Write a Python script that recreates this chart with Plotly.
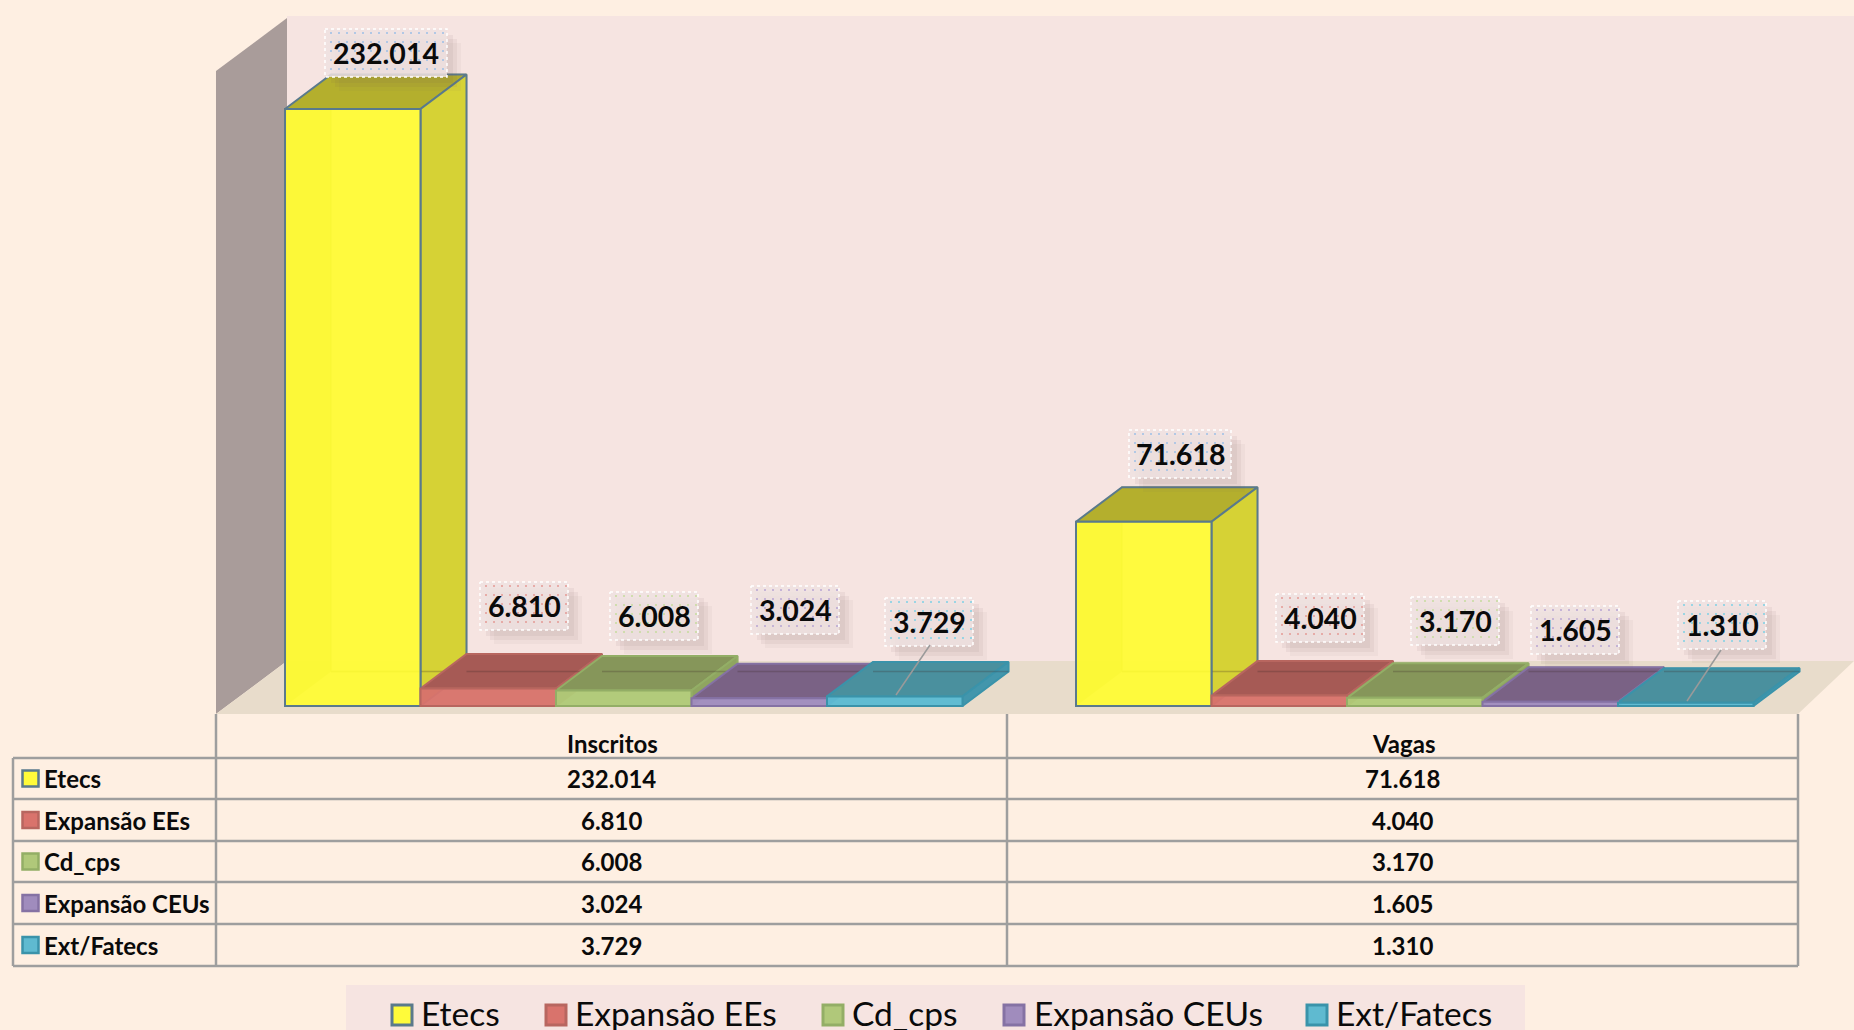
import plotly.graph_objects as go

# ---------- data ----------
categories = ["Inscritos", "Vagas"]
series_names = ["Etecs", "Expansão EEs", "Cd_cps", "Expansão CEUs", "Ext/Fatecs"]
etecs = [232014, 71618]
expansao_ees = [6810, 4040]
cd_cps = [6008, 3170]
expansao_ceus = [3024, 1605]
ext_fatecs = [3729, 1310]
series_values = [etecs, expansao_ees, cd_cps, expansao_ceus, ext_fatecs]

# ---------- style ----------
W, H = 1854, 1030
BG = "#FEEFE2"
WALL = "#F6E4E1"
SIDEWALL = "#A99C9A"
FLOOR = "#E8DCCB"
FRONT = ["rgba(255,252,50,0.93)", "rgba(216,116,108,0.96)", "rgba(176,202,120,0.96)",
         "rgba(160,140,190,0.96)", "rgba(92,186,210,0.96)"]
SOLID = ["#FFFB3A", "#D9736C", "#B0C87A", "#A08CBD", "#5FBAD0"]
SIDE = ["#D6D235", "#B5605A", "#8FA560", "#7F6A9E", "#4396AC"]
TOP = ["#B4AF2D", "#A65A55", "#86965A", "#7A6285", "#4A909E"]
BACKTINT = ["rgba(150,150,40,0.45)", "rgba(120,50,50,0.35)", "rgba(90,110,50,0.35)",
            "rgba(90,70,110,0.35)", "rgba(40,110,130,0.35)"]
EDGE = ["#5A7A8C", "#B8665F", "#93AE66", "#8572A4", "#3A93AA"]
DOT = ["#9DBFE6", "#E59A95", "#C6DB9C", "#B7A5D2", "#7CD0E4"]
GRID = "#9E9E9E"
INK = "#0A0A0A"
FONT = "Lato"

# pixel anchors of the pseudo-3D scale
BASE_PX = 706
PX_PER_VALUE = 597 / 232014
BAND_PX = 791
GROUP_PX = 677.5
GROUP0_LEFT = 285
DEPTH_X_PX = 46
DEPTH_Y_PX = 34.5

center0 = GROUP0_LEFT + GROUP_PX / 2
x_range = [(0 - center0) / BAND_PX, (W - center0) / BAND_PX]
y_range = [(BASE_PX - H) / PX_PER_VALUE, BASE_PX / PX_PER_VALUE]
bar_w = (GROUP_PX / BAND_PX) / len(series_names)
group_w = GROUP_PX / BAND_PX
dx = DEPTH_X_PX / BAND_PX
dy = DEPTH_Y_PX / PX_PER_VALUE


def fx(x):
    return x / W


def fy(y):
    return 1 - y / H


fig = go.Figure()


def poly(xs, ys, fill, line=None, lw=1.5, axes=("x", "y")):
    fig.add_trace(go.Scatter(
        x=xs + xs[:1], y=ys + ys[:1], mode="lines", fill="toself", fillcolor=fill,
        line=dict(color=line or "rgba(0,0,0,0)", width=lw), xaxis=axes[0], yaxis=axes[1],
        hoverinfo="skip", showlegend=False))


# depth faces, drawn through the value axes
for s, values in enumerate(series_values):
    for c, v in enumerate(values):
        x0 = c - group_w / 2 + s * bar_w
        x1 = x0 + bar_w
        # inner back/left/bottom faces, seen through the translucent box
        poly([x0, x0 + dx, x0 + dx, x0], [0, dy, v + dy, v], BACKTINT[s])
        poly([x0 + dx, x1 + dx, x1 + dx, x0 + dx], [dy, dy, v + dy, v + dy], "rgba(0,0,0,0)",
             BACKTINT[s], 1.5)
        # top and right faces
        poly([x0, x1, x1 + dx, x0 + dx], [v, v, v + dy, v + dy], TOP[s], EDGE[s], 2)
        poly([x1, x1 + dx, x1 + dx, x1], [0, dy, v + dy, v], SIDE[s], EDGE[s], 2)
        # back bottom edge seen through the top face
        fig.add_trace(go.Scatter(x=[x0 + dx, x1 + dx], y=[dy, dy], mode="lines",
                                 line=dict(color="rgba(60,40,40,0.25)", width=1.5),
                                 hoverinfo="skip", showlegend=False))

# front faces: real grouped bars
for s, values in enumerate(series_values):
    fig.add_trace(go.Bar(
        x=categories, y=values, name=series_names[s], xaxis="x2", yaxis="y2",
        marker=dict(color=FRONT[s], line=dict(color=EDGE[s], width=2)),
        showlegend=False, hoverinfo="skip"))

# ---------- data labels ----------
label_centers = [[(386, 53), (1180, 454)], [(524, 606), (1320, 618)], [(654, 616), (1455, 621)],
                 [(795, 610), (1575, 630)], [(929, 622), (1722, 625)]]
leaders = {(4, 0): ((930, 645), (896, 695)), (4, 1): ((1721, 650), (1687, 701))}


def fmt(v):
    return f"{v:,}".replace(",", ".")


annotations = []


def text(x, y, t, size, bold=True, anchor="center", color=INK):
    annotations.append(dict(
        x=x, y=y, xref="x3", yref="y3", text=f"<b>{t}</b>" if bold else t, showarrow=False,
        xanchor=anchor, yanchor="middle",
        font=dict(family=FONT, size=size, color=color)))


for s, values in enumerate(series_values):
    for c, v in enumerate(values):
        cx, cy = label_centers[s][c]
        t = fmt(v)
        hw = {7: 61, 6: 51}.get(len(t), 44)
        hh = 24
        # soft drop shadow
        for off, a in ((14, 0.05), (10, 0.07), (6, 0.07)):
            poly([cx - hw + off, cx + hw + off, cx + hw + off, cx - hw + off],
                 [cy - hh + off, cy - hh + off, cy + hh + off, cy + hh + off],
                 f"rgba(110,90,90,{a})", axes=("x3", "y3"))
        # box
        bx = [cx - hw, cx + hw, cx + hw, cx - hw]
        by = [cy - hh, cy - hh, cy + hh, cy + hh]
        fig.add_trace(go.Scatter(
            x=bx + bx[:1], y=by + by[:1], mode="lines", fill="toself",
            fillcolor="rgba(238,226,224,0.85)", line=dict(color="white", width=1.5, dash="dot"),
            xaxis="x3", yaxis="y3", hoverinfo="skip", showlegend=False))
        # dotted texture
        dxs, dys = [], []
        yy = cy - hh + 4
        while yy < cy + hh - 1:
            xx = cx - hw + 6
            while xx < cx + hw - 1:
                dxs.append(xx)
                dys.append(yy)
                xx += 8
            yy += 9
        fig.add_trace(go.Scatter(
            x=dxs, y=dys, mode="markers", marker=dict(size=2, color=DOT[s]),
            xaxis="x3", yaxis="y3", hoverinfo="skip", showlegend=False))
        text(cx, cy, t, 28.5)
        if (s, c) in leaders:
            a, b = leaders[(s, c)]
            fig.add_trace(go.Scatter(
                x=[a[0], b[0]], y=[a[1], b[1]], mode="lines", line=dict(color="#9A9A9A", width=1.5),
                xaxis="x3", yaxis="y3", hoverinfo="skip", showlegend=False))

# ---------- walls, floor, table grid ----------
shapes = []


def path_shape(pts, fill):
    p = "M " + " L ".join(f"{fx(x):.5f} {fy(y):.5f}" for x, y in pts) + " Z"
    shapes.append(dict(type="path", path=p, xref="paper", yref="paper", fillcolor=fill,
                       line=dict(width=0), layer="below"))


path_shape([(287, 16), (W, 16), (W, 661), (287, 661)], WALL)
path_shape([(216, 71), (287, 18), (287, 661), (216, 714)], SIDEWALL)
path_shape([(216, 714), (287, 661), (W, 661), (1798, 714)], FLOOR)


def seg(x0, y0, x1, y1, w=2.5):
    shapes.append(dict(type="line", x0=fx(x0), y0=fy(y0), x1=fx(x1), y1=fy(y1), xref="paper",
                       yref="paper", line=dict(color=GRID, width=w), layer="below"))


ROW_Y = [758, 799, 841, 882, 924, 966]
TX0, TX1, TX2, TX3 = 13, 216, 1007, 1798
for y in ROW_Y:
    seg(TX0, y, TX3, y)
seg(TX0, ROW_Y[0], TX0, ROW_Y[-1])
seg(TX1, 714, TX1, ROW_Y[-1])
seg(TX2, 714, TX2, ROW_Y[-1])
seg(TX3, 714, TX3, ROW_Y[-1])

# legend panel
path_shape([(346, 985), (1525, 985), (1525, H), (346, H)], WALL)

# ---------- table text and keys ----------
col_centers = [(TX1 + TX2) / 2, (TX2 + TX3) / 2]
for c, name in enumerate(categories):
    text(col_centers[c] + 1, 743, name, 24)
for s, name in enumerate(series_names):
    ym = (ROW_Y[s] + ROW_Y[s + 1]) / 2
    text(42, ym, name, 24, anchor="left")
    for c in range(len(categories)):
        text(col_centers[c], ym, fmt(series_values[s][c]), 24)
    fig.add_trace(go.Scatter(
        x=[30.5], y=[ym], mode="markers",
        marker=dict(symbol="square", size=16, color=SOLID[s], line=dict(color=EDGE[s], width=2.5)),
        xaxis="x3", yaxis="y3", hoverinfo="skip", showlegend=False))

# ---------- legend ----------
legend_key_x = [402, 556, 833, 1014, 1317]
legend_text_x = [419, 573, 850, 1032, 1334]
for s, name in enumerate(series_names):
    fig.add_trace(go.Scatter(
        x=[legend_key_x[s]], y=[1015], mode="markers",
        marker=dict(symbol="square", size=20, color=SOLID[s], line=dict(color=EDGE[s], width=3)),
        xaxis="x3", yaxis="y3", hoverinfo="skip", showlegend=False))
    text(legend_text_x[s], 1013, name, 33.5, bold=False, anchor="left")

hidden = dict(visible=False, fixedrange=True, domain=[0, 1])
fig.update_layout(
    width=W, height=H, autosize=False,
    margin=dict(l=0, r=0, t=0, b=0, pad=0),
    paper_bgcolor=BG, plot_bgcolor="rgba(0,0,0,0)",
    showlegend=False,
    barmode="group", bargap=1 - GROUP_PX / BAND_PX, bargroupgap=0,
    xaxis=dict(hidden, range=x_range, type="linear"),
    yaxis=dict(hidden, range=y_range, type="linear"),
    xaxis2=dict(hidden, range=x_range, type="category", categoryorder="array",
                categoryarray=categories, overlaying="x"),
    yaxis2=dict(hidden, range=y_range, type="linear", overlaying="y"),
    xaxis3=dict(hidden, range=[0, W], type="linear", overlaying="x"),
    yaxis3=dict(hidden, range=[H, 0], type="linear", overlaying="y"),
    shapes=shapes,
    annotations=annotations,
    font=dict(family=FONT),
)

fig.write_html("out.html", config={"displayModeBar": False},
               post_script="document.body.style.margin='0';document.body.style.overflow='hidden';")
